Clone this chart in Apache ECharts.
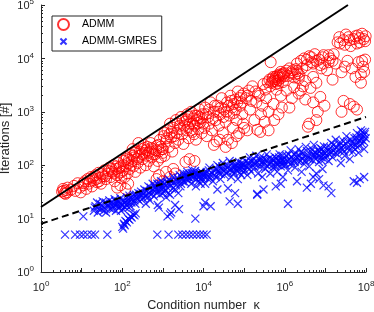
<!DOCTYPE html>
<html><head><meta charset="utf-8">
<script src="https://cdn.jsdelivr.net/npm/echarts@6/dist/echarts.min.js"></script>
<style>html,body{margin:0;padding:0;background:#fff}#c{width:374px;height:312px}</style>
</head><body><div id="c"></div>
<script>
// ADMM iterations vs condition number [kappa, iterations]
const admmPoints = [
[3.3,32],[3.5,36],[3.8,30],[4.2,34],[4.5,38],[4.0,29],[5.5,35],[6.5,41],[7.0,33],[8.0,46],[9.0,38],[9.5,31],[3.6,33],[4.4,31],
[11,42],[12,50],[13,36],[14,55],[15,45],[17,60],[18,40],[20,52],[22,65],[24,48],[26,72],[28,58],[30,45],[33,62],[36,80],[40,55],[44,70],[48,90],[52,60],[56,75],[60,100],[65,50],[70,85],[75,65],[80,110],[85,72],[90,95],[95,58],[75,38],[90,42],[120,36],[140,45],
[11,46],[16,50],[19,58],[23,55],[27,50],[32,68],[38,62],[46,78],[55,85],[62,70],[72,95],[85,88],[98,75],
[105,80],[110,120],[115,60],[120,95],[130,140],[135,70],[140,110],[150,85],[160,160],[170,120],[180,200],[190,95],[200,140],[210,75],[220,180],[240,110],[250,260],[260,150],[280,90],[300,200],[320,130],[340,240],[360,170],[380,100],[400,150],[420,220],[450,120],[480,180],[500,260],[530,140],[560,200],[600,95],[650,160],[700,230],[750,120],[800,180],[850,300],[900,140],[950,200],
[108,100],[125,130],[145,125],[165,100],[185,150],[205,170],[230,130],[270,180],[310,160],[350,210],[390,190],[440,170],[520,210],[580,160],[680,190],[780,240],[880,220],[980,170],
[700,55],[800,65],[1000,50],[1200,75],[1500,60],[1800,85],[2000,70],
[1000,200],[1050,350],[1100,150],[1200,280],[1300,450],[1400,220],[1500,600],[1600,330],[1700,180],[1800,500],[2000,260],[2100,700],[2200,400],[2400,300],[2600,550],[2800,800],[3000,380],[3200,250],[3500,650],[3800,450],[4000,900],[4300,320],[4600,600],[5000,1000],[5300,420],[5600,750],[6000,550],[6500,300],[7000,850],[7500,480],[8000,1100],[8500,650],[9000,400],[9500,900],[3600,115],[4500,130],[6000,120],[4200,520],[5800,380],[7200,620],
[1100,400],[1250,320],[1450,380],[1650,420],[1900,350],[2300,600],[2700,480],[3100,700],[3400,550],[3900,720],[4400,800],[4800,450],[5500,600],[6200,850],[6800,700],[7800,800],[8800,750],[9800,600],
[1.05e4,500],[1.1e4,1200],[1.2e4,350],[1.3e4,800],[1.4e4,600],[1.5e4,1500],[1.6e4,450],[1.8e4,1000],[2e4,700],[2.1e4,280],[2.2e4,1300],[2.4e4,550],[2.6e4,900],[2.8e4,1800],[3e4,400],[3.2e4,1100],[3.5e4,650],[3.8e4,1500],[4e4,300],[4.3e4,850],[4.6e4,2000],[5e4,1200],[5.3e4,500],[5.6e4,950],[6e4,1700],[6.5e4,700],[7e4,2400],[7.5e4,400],[8e4,1300],[8.5e4,2000],[9e4,900],[9.5e4,600],[1.8e4,240],[2.5e4,300],[3.5e4,220],[5e4,260],[6.5e4,350],
[1.15e4,900],[1.35e4,1100],[1.7e4,750],[1.9e4,1300],[2.3e4,1000],[2.7e4,1200],[3.1e4,800],[3.7e4,1000],[4.2e4,1300],[4.8e4,1600],[5.5e4,1400],[6.2e4,1100],[6.8e4,1500],[7.8e4,1800],[8.8e4,1500],[9.8e4,2200],
[1.1e5,1800],[1.2e5,450],[1.3e5,2500],[1.4e5,1100],[1.6e5,3000],[1.8e5,700],[2e5,1500],[2.2e5,2200],[2.5e5,420],[2.6e5,900],[2.8e5,1300],[3e5,3300],[3.2e5,650],[3.5e5,1800],[3.8e5,3600],[4e5,1000],[4.2e5,4000],[4.5e5,8500],[4.7e5,3500],[5e5,4200],[5.3e5,1400],[5.6e5,3800],[6e5,4500],[6.3e5,2600],[6.6e5,4800],[7e5,3900],[7.5e5,5000],[8e5,4300],[8.5e5,1200],[9e5,5200],[9.5e5,4600],[5.5e5,700],[7e5,900],[8e5,2000],[5e5,3700],[6e5,3300],[7e5,4400],[8e5,5600],[9e5,3600],[2.1e5,460],[4e5,450],[1e5,500],
[1.2e5,2000],[1.5e5,1600],[1.9e5,2400],[2.4e5,2000],[3.3e5,2600],[4.4e5,3000],[5.8e5,4100],[6.8e5,3400],[7.3e5,4700],[8.8e5,4900],[9.8e5,5300],[6.2e5,3700],[5.2e5,4500],
[1.1e6,5900],[1.2e6,4700],[1.4e6,5500],[1.6e6,6000],[1.8e6,5000],[2e6,5800],[2.3e6,4900],
[1.1e6,2500],[1.3e6,1200],[1.5e6,1800],[2e6,8000],[2.2e6,2200],[2.5e6,9000],[2.8e6,3000],[3e6,10000],[3.2e6,1700],[3.5e6,7500],[3.7e6,525],[4e6,11000],[4.3e6,2800],[4.6e6,8500],[5e6,1500],[5.5e6,12000],[6e6,3500],[6.5e6,1000],[7e6,9500],[7.5e6,1900],[8e6,6500],[9e6,11500],[9.5e6,1300],[2.2e6,4200],[2.7e6,6500],[5e6,4500],[6e6,9000],[4e6,600],[6e6,700],
[1.3e6,6500],[1.5e6,5200],[1.7e6,4400],[1.9e6,6300],[2.1e6,5300],[3.5e6,9500],[4.5e6,10500],[5e6,8000],[7.5e6,7500],[8.5e6,10500],[9e6,8000],[3.2e6,3800],[2.5e6,2500],[1.7e6,2900],
[1.1e7,6000],[1.3e7,10000],[1.5e7,4000],[1.8e7,8000],[2e7,20000],[2.2e7,25000],[2.5e7,5500],[2.8e7,1600],[3e7,18000],[3.2e7,28000],[3.5e7,9000],[4e7,22000],[4.5e7,6500],[5e7,1250],[5.5e7,26000],[6e7,19000],[6.5e7,8500],[7e7,24000],[7.5e7,5000],[8e7,29000],[8.5e7,7000],[9e7,5600],[9.5e7,21000],[2.5e7,1000],[4e7,1400],[1.2e7,8500],[1.6e7,12000],[6e7,1100],[8e7,9000],
[1.2e7,11500],[1.5e7,9000],[2.3e7,19000],[2.8e7,22000],[3.7e7,25000],[4.2e7,17000],[5e7,23000],[6.3e7,27000],[7e7,20000],[8.8e7,23000],[9.8e7,26000],[3e7,7000],[5.5e7,4500],[9.5e7,9500],[7.5e7,3500]
];

// ADMM-GMRES iterations vs condition number [kappa, iterations]
const gmresPoints = [
[3.9,5],[6.9,5],[9.1,5],[11,5],[13.8,5],[17.8,5],[21.4,5],[43,5],[730,5],[1380,5],[2400,5],[3000,5],[3700,5],[4500,5],[5500,5],[6800,5],[8200,5],[10000,5],[12000,5],
[11,11],
[20,14],[22,17],[25,13],[28,19],[30,15],[33,21],[36,16],[40,13],[44,18],[48,22],[52,15],[56,20],[60,17],[65,23],[70,14],[75,19],[80,21],[85,16],[90,24],[95,18],
[21,16],[24,20],[27,15],[31,18],[35,14],[39,20],[46,16],[50,19],[58,15],[63,19],[68,21],[78,17],[88,20],[93,14],
[100,7],[105,6.5],[110,8],[115,7.5],[120,9],[130,8.5],[140,10],[150,9.5],[160,11],[170,10.5],[185,12],[200,11.5],[215,12.5],
[100,18],[110,22],[120,16],[130,25],[140,20],[150,27],[160,17],[175,23],[190,28],[210,19],[230,25],[250,30],[270,21],[290,32],
[105,15],[115,20],[125,18],[135,22],[145,16],[155,24],[168,20],[180,26],[200,22],[220,28],[240,23],[260,26],[280,29],[300,27],
[320,24],[350,35],[380,19],[410,28],[440,40],[480,22],[520,33],[560,45],[600,26],[650,38],[700,30],[750,18],[800,42],[850,28],[900,50],[950,35],
[330,30],[360,26],[400,33],[430,25],[460,30],[500,38],[540,29],[580,34],[620,42],[680,35],[730,45],[780,33],[830,38],[880,44],[930,40],[980,48],
[1000,30],[1100,45],[1200,25],[1300,38],[1400,55],[1500,28],[1600,42],[1800,60],[2000,35],[2200,50],[2400,30],[2600,65],[2800,45],[3000,55],[3200,70],[3500,48],[3800,62],[4000,75],[4300,52],[4600,68],[5000,45],[5300,80],[5600,58],[6000,70],[6500,40],[7000,62],[7500,50],[8000,72],[8500,45],[9000,58],[9500,65],
[1050,38],[1150,33],[1250,48],[1350,30],[1450,44],[1550,50],[1700,36],[1900,48],[2100,42],[2300,58],[2500,52],[2700,40],[2900,60],[3100,50],[3400,62],[3700,55],[3900,68],[4200,60],[4500,58],[4800,65],[5100,72],[5500,66],[5800,62],[6200,78],[6800,55],[7200,68],[7800,60],[8200,65],[8800,75],[9200,52],[9800,70],
[1300,11],[1600,13],[1500,12],[2500,15],[6300,10],[10000,17],[11000,20],[800,16],[2000,18],
[1.05e4,60],[1.1e4,45],[1.2e4,75],[1.3e4,55],[1.4e4,90],[1.5e4,65],[1.7e4,50],[1.8e4,80],[2e4,60],[2.2e4,100],[2.4e4,70],[2.6e4,55],[2.8e4,85],[3e4,110],[3.3e4,65],[3.6e4,95],[4e4,75],[4.4e4,120],[4.8e4,60],[5.2e4,90],[5.6e4,70],[6e4,105],[6.5e4,80],[7e4,55],[7.5e4,115],[8e4,85],[8.5e4,65],[9e4,100],[9.5e4,75],
[1.15e4,70],[1.25e4,62],[1.35e4,80],[1.45e4,58],[1.6e4,72],[1.9e4,65],[2.1e4,85],[2.3e4,78],[2.5e4,92],[2.7e4,68],[2.9e4,95],[3.2e4,80],[3.5e4,72],[3.8e4,88],[4.2e4,95],[4.6e4,82],[5e4,105],[5.4e4,78],[5.8e4,90],[6.3e4,98],[6.8e4,88],[7.3e4,100],[7.8e4,72],[8.3e4,95],[8.8e4,110],[9.3e4,90],[9.8e4,102],
[1.5e4,17],[4.4e4,21],[7e4,19],[2.2e4,35],[4e4,37],[6e4,30],[2.1e5,29],
[1.05e5,80],[1.1e5,120],[1.2e5,65],[1.3e5,100],[1.4e5,140],[1.5e5,75],[1.7e5,110],[1.8e5,90],[2e5,150],[2.2e5,70],[2.4e5,125],[2.6e5,95],[2.8e5,60],[3e5,135],[3.3e5,85],[3.6e5,160],[4e5,105],[4.4e5,70],[4.8e5,130],[5.2e5,90],[5.6e5,145],[6e5,110],[6.5e5,75],[7e5,120],[7.5e5,160],[8e5,95],[8.5e5,130],[9e5,60],[9.5e5,115],
[1.15e5,95],[1.25e5,110],[1.35e5,85],[1.45e5,120],[1.6e5,100],[1.75e5,130],[1.9e5,105],[2.1e5,115],[2.3e5,95],[2.5e5,140],[2.7e5,110],[2.9e5,120],[3.2e5,105],[3.5e5,125],[3.8e5,95],[4.2e5,135],[4.6e5,115],[5e5,100],[5.4e5,125],[5.8e5,95],[6.2e5,135],[6.8e5,100],[7.2e5,140],[7.8e5,115],[8.2e5,105],[8.8e5,150],[9.2e5,125],[9.8e5,100],
[1.2e6,19],[2.1e5,28],[3e5,35],[6e5,40],[8e5,45],
[1.05e6,100],[1.1e6,150],[1.2e6,80],[1.3e6,130],[1.4e6,190],[1.5e6,110],[1.7e6,160],[1.8e6,90],[2e6,140],[2.2e6,200],[2.4e6,120],[2.6e6,75],[2.8e6,170],[3e6,105],[3.3e6,220],[3.6e6,135],[4e6,95],[4.4e6,180],[4.8e6,125],[5.2e6,240],[5.6e6,150],[6e6,70],[6.5e6,190],[7e6,115],[7.5e6,210],[8e6,140],[8.5e6,85],[9e6,175],[9.5e6,130],
[1.15e6,120],[1.25e6,160],[1.35e6,105],[1.45e6,145],[1.6e6,130],[1.75e6,115],[1.9e6,165],[2.1e6,120],[2.3e6,150],[2.5e6,175],[2.7e6,130],[2.9e6,145],[3.2e6,120],[3.5e6,185],[3.8e6,150],[4.2e6,130],[4.6e6,200],[5e6,155],[5.4e6,175],[5.8e6,130],[6.2e6,165],[6.8e6,150],[7.2e6,180],[7.8e6,125],[8.2e6,200],[8.8e6,155],[9.2e6,225],[9.8e6,170],
[1.4e7,30],[4.4e6,45],[7e6,55],[1.2e7,40],[2e6,50],[3.5e6,38],[5e6,60],[9e6,42],
[1.05e7,150],[1.1e7,220],[1.2e7,120],[1.3e7,180],[1.4e7,260],[1.5e7,140],[1.7e7,200],[1.8e7,300],[2e7,160],[2.2e7,240],[2.4e7,110],[2.6e7,190],[2.8e7,280],[3e7,150],[3.3e7,350],[3.6e7,210],[4e7,130],[4.4e7,260],[4.8e7,180],[5.2e7,320],[5.6e7,230],[6e7,400],[6.5e7,170],[7e7,290],[7.5e7,450],[8e7,250],[8.5e7,350],[9e7,200],[9.5e7,420],
[1.15e7,190],[1.25e7,160],[1.35e7,210],[1.45e7,175],[1.6e7,240],[1.75e7,170],[1.9e7,220],[2.1e7,190],[2.3e7,270],[2.5e7,210],[2.7e7,230],[2.9e7,180],[3.2e7,250],[3.5e7,280],[3.8e7,190],[4.2e7,300],[4.6e7,220],[5e7,260],[5.4e7,200],[5.8e7,330],[6.2e7,270],[6.8e7,230],[7.2e7,360],[7.8e7,300],[8.2e7,420],[8.8e7,280],[9.2e7,380],[9.8e7,320],
[5e7,50],[7e7,55],[9e7,60],[6e7,47]
];

// reference slopes
const solidRef = [[1,16.5],[3.6e7,1e5]];
const dashedRef = [[1,8],[1e8,800]];

// axis ranges / labels
const xRange = [1, 1e8];
const yRange = [1, 1e5];
const xLabelExps = [0, 2, 4, 6, 8];
const yLabelExps = [0, 1, 2, 3, 4, 5];
const legendNames = ['ADMM', 'ADMM-GMRES'];
const xName = 'Condition number  κ';
const yName = 'Iterations [#]';

const FONT = '"Liberation Sans", Arial, Helvetica, sans-serif';
const AX = '#262626';
const crossPath = 'path://M0 0L10 10M10 0L0 10';
const crossLegend = 'path://M-4 -4M0 0L10 10M10 0L0 10M14 14';

function powLabel(allowed) {
  return function (v) {
    const e = Math.round(Math.log10(v));
    if (allowed.indexOf(e) < 0) return '';
    return '{b|10}{s|' + e + '}';
  };
}
const rich = {
  b: { fontSize: 11, fontFamily: FONT, color: AX, verticalAlign: 'bottom', lineHeight: 13.5 },
  s: { fontSize: 8, fontFamily: FONT, color: AX, verticalAlign: 'top', lineHeight: 13.5 }
};

const chart = echarts.init(document.getElementById('c'), null, { renderer: 'canvas' });
const axisCommon = {
  type: 'log', logBase: 10,
  axisLine: { show: true, lineStyle: { color: AX, width: 1 } },
  axisTick: { show: true, inside: true, length: 4, lineStyle: { color: AX, width: 1 } },
  minorTick: { show: true, splitNumber: 9, length: 2, lineStyle: { color: AX, width: 1 } },
  splitLine: { show: false },
  minorSplitLine: { show: false },
  nameLocation: 'middle',
  nameMoveOverlap: false,
  nameTextStyle: { fontSize: 12.6, fontFamily: FONT, color: AX }
};
chart.setOption({
  animation: false,
  backgroundColor: '#fff',
  grid: { left: 41, right: 8, top: 5, bottom: 40, containLabel: false, outerBoundsMode: 'none' },
  legend: {
    left: 52, top: 16, orient: 'vertical',
    data: [{ name: legendNames[0] }, { name: legendNames[1], icon: crossLegend }],
    itemWidth: 27, itemHeight: 11, itemGap: 4,
    padding: [2, 5, 3, 5],
    borderColor: AX, borderWidth: 1, backgroundColor: '#fff',
    textStyle: { fontSize: 10.6, fontFamily: FONT, color: '#000' }
  },
  xAxis: Object.assign({}, axisCommon, {
    min: xRange[0], max: xRange[1], splitNumber: 8,
    name: xName, nameGap: 27,
    axisLabel: { margin: 8, formatter: powLabel(xLabelExps), rich: rich, showMinLabel: true, showMaxLabel: true }
  }),
  yAxis: Object.assign({}, axisCommon, {
    min: yRange[0], max: yRange[1], splitNumber: 5,
    name: yName, nameGap: 29,
    nameTextStyle: { fontSize: 13, fontFamily: FONT, color: AX },
    axisLabel: { margin: 7, formatter: powLabel(yLabelExps), rich: rich, showMinLabel: true, showMaxLabel: true }
  }),
  series: [
    {
      name: legendNames[0], type: 'scatter', data: admmPoints, symbol: 'circle', symbolSize: 11,
      itemStyle: { color: 'rgba(255,255,255,0)', borderColor: '#ff0000', borderWidth: 1 },
      emphasis: { disabled: true }, silent: true
    },
    {
      name: legendNames[1], type: 'scatter', data: gmresPoints, symbol: crossPath, symbolSize: 8,
      itemStyle: { color: 'rgba(255,255,255,0)', borderColor: '#0000ff', borderWidth: 1.2 },
      emphasis: { disabled: true }, silent: true
    },
    {
      name: 'sqrt', type: 'line', data: solidRef, showSymbol: false, symbol: 'none',
      lineStyle: { color: '#000', width: 2 }, silent: true, z: 5
    },
    {
      name: 'quarter', type: 'line', data: dashedRef, showSymbol: false, symbol: 'none',
      lineStyle: { color: '#000', width: 2, type: [7, 4] }, silent: true, z: 5
    }
  ]
});
</script>
</body></html>
